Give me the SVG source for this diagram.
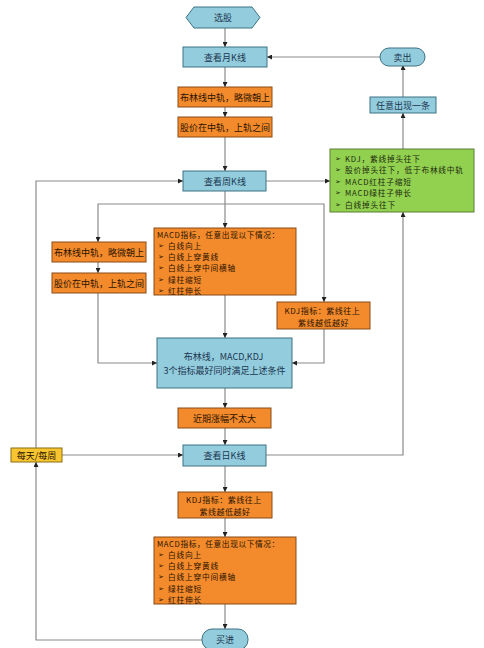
<svg xmlns="http://www.w3.org/2000/svg" width="484" height="648" viewBox="0 0 484 648">
<defs>
<marker id="ah" viewBox="0 0 6 6" refX="6" refY="3" markerWidth="5" markerHeight="5" markerUnits="userSpaceOnUse" orient="auto">
<path d="M0,0 L6,3 L0,6 Z" fill="#222"/>
</marker>
<style>
text{font-family:"Noto Sans CJK SC","DejaVu Sans",sans-serif;font-size:9px;}
.c{text-anchor:middle;dominant-baseline:central;}
.m{dominant-baseline:central;font-size:7.7px;letter-spacing:0.8px;}
.blue{fill:#93cddd;stroke:#3d7283;stroke-width:1;}
.org{fill:#f38a2c;stroke:#8a4b16;stroke-width:1;}
.grn{fill:#92d050;stroke:#5a7f30;stroke-width:1;}
.yel{fill:#f7c530;stroke:#8c6e12;stroke-width:1;}
.tb{fill:#1b3550;}
.to{fill:#2b1300;}
.tg{fill:#1c2a0c;}
.bu{font-family:"DejaVu Sans",sans-serif;font-size:7px;letter-spacing:0;}
.conn path{fill:none;stroke:#8a8a8a;stroke-width:1.2;marker-end:url(#ah);}
</style>
</defs>
<rect width="484" height="648" fill="#ffffff"/>

<g class="conn" id="connectors">
<path d="M225,28 V47"/>
<path d="M225,67 V87"/>
<path d="M225,107 V117"/>
<path d="M225,137 V171"/>
<path d="M225,191 V228"/>
<path d="M225,204 H98 V242"/>
<path d="M225,204 H324 V302"/>
<path d="M98,262 V273"/>
<path d="M98,293 V363 H157"/>
<path d="M225,295 V338"/>
<path d="M324,329 V363 H292"/>
<path d="M225,388 V408"/>
<path d="M225,428 V445"/>
<path d="M225,466 V492"/>
<path d="M225,518 V537"/>
<path d="M225,604 V629"/>
<path d="M202,640 H36 V462"/>
<path d="M36,448 V181 H183"/>
<path d="M62,455 H183"/>
<path d="M266,181 H330"/>
<path d="M266,455 H403 V212"/>
<path d="M403,149 V113"/>
<path d="M403,97 V65"/>
<path d="M380,57 H267"/>
</g>

<g id="n-xuangu">
<polygon class="blue" points="194,7 252,7 260,17.5 252,28 194,28 186,17.5"/>
<text class="c tb" x="223" y="17.5">选股</text>
</g>
<g id="n-month">
<rect class="blue" x="183" y="47" width="84" height="20"/>
<text class="c tb" x="225" y="57">查看月K线</text>
</g>
<g id="n-bl1">
<rect class="org" x="178" y="87" width="94" height="20"/>
<text class="c to" x="225" y="97">布林线中轨，略微朝上</text>
</g>
<g id="n-gj1">
<rect class="org" x="178" y="117" width="94" height="20"/>
<text class="c to" x="225" y="127">股价在中轨，上轨之间</text>
</g>
<g id="n-week">
<rect class="blue" x="183" y="171" width="83" height="20"/>
<text class="c tb" x="225" y="181">查看周K线</text>
</g>
<g id="n-sell">
<rect class="blue" x="380" y="48" width="45" height="18" rx="9" ry="9"/>
<text class="c tb" x="402.5" y="57">卖出</text>
</g>
<g id="n-any">
<rect class="blue" x="370" y="97" width="66" height="16"/>
<text class="c tb" x="403" y="105">任意出现一条</text>
</g>
<g id="n-green">
<rect class="grn" x="330" y="149" width="144" height="63"/>
<text class="tg m">
<tspan class="bu" x="335" y="158.5">➢</tspan><tspan x="345" y="157.5">KDJ，紫线掉头往下</tspan>
<tspan class="bu" x="335" y="170">➢</tspan><tspan x="345" y="169">股价掉头往下，低于布林线中轨</tspan>
<tspan class="bu" x="335" y="181.5">➢</tspan><tspan x="345" y="180.5">MACD红柱子缩短</tspan>
<tspan class="bu" x="335" y="193">➢</tspan><tspan x="345" y="192">MACD绿柱子伸长</tspan>
<tspan class="bu" x="335" y="204.5">➢</tspan><tspan x="345" y="203.5">白线掉头往下</tspan>
</text>
</g>
<g id="n-bl2">
<rect class="org" x="52" y="242" width="94" height="20"/>
<text class="c to" x="99" y="252">布林线中轨，略微朝上</text>
</g>
<g id="n-gj2">
<rect class="org" x="52" y="273" width="94" height="20"/>
<text class="c to" x="99" y="283">股价在中轨，上轨之间</text>
</g>
<g id="n-macd1">
<rect class="org" x="154" y="228" width="142" height="67"/>
<text class="to m">
<tspan x="157" y="233.8" style="letter-spacing:0.6px">MACD指标，任意出现以下情况：</tspan>
<tspan class="bu" x="158" y="246">➢</tspan><tspan x="168" y="245">白线向上</tspan>
<tspan class="bu" x="158" y="257.2">➢</tspan><tspan x="168" y="256.2">白线上穿黄线</tspan>
<tspan class="bu" x="158" y="268.4">➢</tspan><tspan x="168" y="267.4">白线上穿中间横轴</tspan>
<tspan class="bu" x="158" y="279.6">➢</tspan><tspan x="168" y="278.6">绿柱缩短</tspan>
<tspan class="bu" x="158" y="290.8">➢</tspan><tspan x="168" y="289.8">红柱伸长</tspan>
</text>
</g>
<g id="n-kdj1">
<rect class="org" x="277" y="302" width="93" height="27"/>
<text class="to" text-anchor="middle" style="dominant-baseline:central;font-size:8px;letter-spacing:0.5px">
<tspan x="323.5" y="309.5">KDJ指标：紫线往上</tspan>
<tspan x="323.5" y="321.5">紫线越低越好</tspan>
</text>
</g>
<g id="n-all">
<rect class="blue" x="157" y="338" width="135" height="50"/>
<text class="tb" text-anchor="middle" style="dominant-baseline:central">
<tspan x="224.5" y="356">布林线，MACD,KDJ</tspan>
<tspan x="224.5" y="369.5">3个指标最好同时满足上述条件</tspan>
</text>
</g>
<g id="n-recent">
<rect class="org" x="178" y="408" width="93" height="20"/>
<text class="c to" x="224.5" y="418">近期涨幅不太大</text>
</g>
<g id="n-day">
<rect class="blue" x="183" y="445" width="83" height="21"/>
<text class="c tb" x="224.5" y="455.5">查看日K线</text>
</g>
<g id="n-daily">
<rect class="yel" x="11" y="448" width="51" height="14"/>
<text class="c to" x="36.5" y="455">每天/每周</text>
</g>
<g id="n-kdj2">
<rect class="org" x="178" y="492" width="94" height="26"/>
<text class="to" text-anchor="middle" style="dominant-baseline:central;font-size:8px;letter-spacing:0.5px">
<tspan x="225" y="499">KDJ指标：紫线往上</tspan>
<tspan x="225" y="511">紫线越低越好</tspan>
</text>
</g>
<g id="n-macd2">
<rect class="org" x="154" y="537" width="142" height="67"/>
<text class="to m">
<tspan x="157" y="542.8" style="letter-spacing:0.6px">MACD指标，任意出现以下情况：</tspan>
<tspan class="bu" x="158" y="555">➢</tspan><tspan x="168" y="554">白线向上</tspan>
<tspan class="bu" x="158" y="566.2">➢</tspan><tspan x="168" y="565.2">白线上穿黄线</tspan>
<tspan class="bu" x="158" y="577.4">➢</tspan><tspan x="168" y="576.4">白线上穿中间横轴</tspan>
<tspan class="bu" x="158" y="588.6">➢</tspan><tspan x="168" y="587.6">绿柱缩短</tspan>
<tspan class="bu" x="158" y="599.8">➢</tspan><tspan x="168" y="598.8">红柱伸长</tspan>
</text>
</g>
<g id="n-buy">
<rect class="blue" x="202" y="629" width="46" height="21" rx="10" ry="10"/>
<text class="c tb" x="225" y="639">买进</text>
</g>
</svg>
